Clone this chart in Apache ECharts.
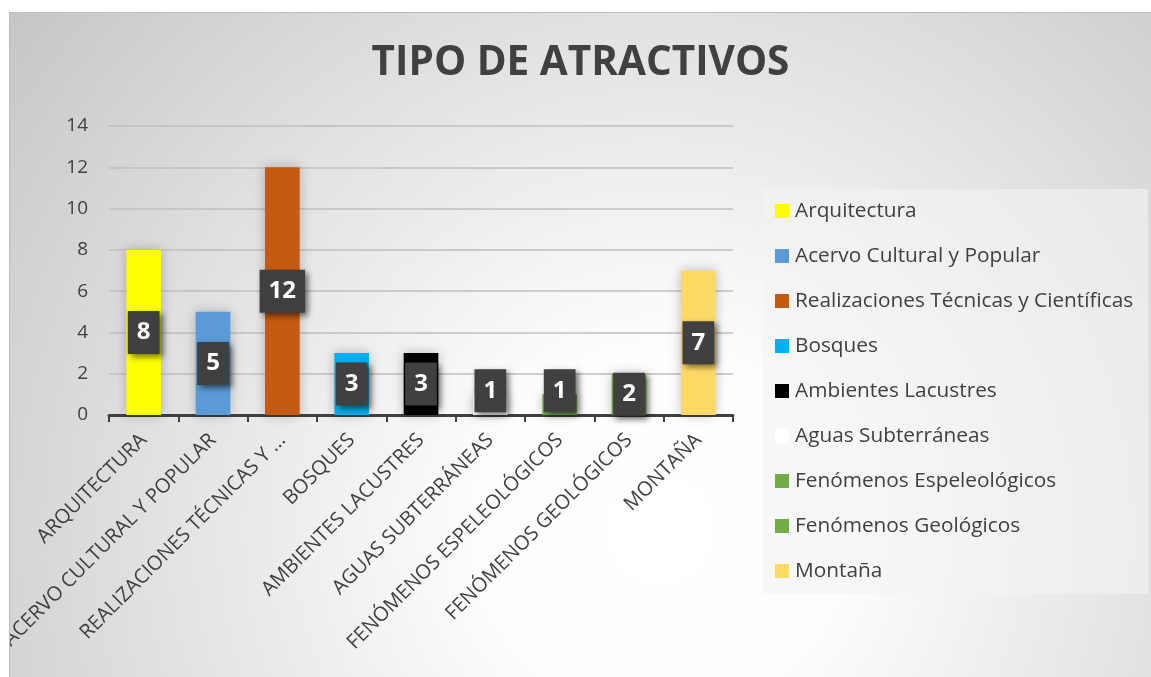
<!DOCTYPE html>
<html>
<head>
<meta charset="utf-8">
<script src="https://cdn.jsdelivr.net/npm/echarts@6/dist/echarts.min.js"></script>
<style>
  html, body { margin: 0; padding: 0; background: #fff; }
  #chart {
    position: absolute; left: 9px; top: 12px; width: 1142px; height: 665px;
    box-sizing: border-box; border-top: 1px solid #bdbdbd; border-left: 1px solid #bdbdbd;
    background: radial-gradient(circle at 57% 78%, #ffffff 0%, #fdfdfd 22%, #c6c6c6 100%);
  }
</style>
</head>
<body>
<div id="chart"></div>
<script>
const titleText = 'TIPO DE ATRACTIVOS';
const categories = [
  'Arquitectura', 'Acervo Cultural y Popular', 'Realizaciones Técnicas y Científicas',
  'Bosques', 'Ambientes Lacustres', 'Aguas Subterráneas',
  'Fenómenos Espeleológicos', 'Fenómenos Geológicos', 'Montaña'
];
const tickLabels = [
  'ARQUITECTURA', 'ACERVO CULTURAL Y POPULAR', 'REALIZACIONES TÉCNICAS Y ...',
  'BOSQUES', 'AMBIENTES LACUSTRES', 'AGUAS SUBTERRÁNEAS',
  'FENÓMENOS ESPELEOLÓGICOS', 'FENÓMENOS GEOLÓGICOS', 'MONTAÑA'
];
const values = [8, 5, 12, 3, 3, 1, 1, 2, 7];
const colors = ['#ffff00', '#5b9bd5', '#c55a11', '#00b0f0', '#000000', '#ffffff', '#70ad47', '#70ad47', '#ffd966'];
const yTicks = { min: 0, max: 14, interval: 2 };

const font = 'Open Sans';
const textColor = '#404040';

// one series per category, stacked so each bar sits centred in its own slot
const series = categories.map((name, i) => ({
  name,
  type: 'bar',
  stack: 'all',
  barWidth: '50%',
  data: values.map((v, j) => (j === i ? v : '-')),
  itemStyle: {
    color: colors[i],
    shadowColor: 'rgba(0,0,0,0.25)',
    shadowBlur: 12
  },
  label: {
    show: true,
    position: 'inside',
    offset: values[i] < 2 ? [0, -14] : [0, 0],
    fontFamily: font,
    fontSize: 24,
    fontWeight: 'bold',
    color: '#ffffff',
    backgroundColor: '#404040',
    padding: [10, 9, 9, 9],
    shadowColor: 'rgba(0,0,0,0.55)',
    shadowBlur: 6,
    shadowOffsetX: 3,
    shadowOffsetY: 3
  }
}));

const chart = echarts.init(document.getElementById('chart'));
chart.setOption({
  animation: false,
  textStyle: { fontFamily: font },
  title: {
    text: titleText,
    left: 'center',
    top: 30,
    padding: 0,
    textStyle: { fontFamily: font, fontSize: 40.5, fontWeight: 'bold', color: textColor }
  },
  graphic: [{
    type: 'rect',
    left: 753,
    top: 176,
    shape: { width: 385, height: 405 },
    style: { fill: 'rgba(244,244,244,0.6)' },
    z: -1
  }],
  legend: {
    orient: 'vertical',
    left: 765,
    top: 186,
    padding: 0,
    itemWidth: 14,
    itemHeight: 14,
    itemGap: 21,
    icon: 'rect',
    data: categories,
    textStyle: { fontFamily: font, fontSize: 20.8, color: textColor, lineHeight: 24, padding: [0, 0, 0, 1] }
  },
  grid: { left: 99, top: 113, right: 418, bottom: 262, outerBoundsMode: 'none', containLabel: false },
  xAxis: {
    type: 'category',
    data: categories,
    axisLine: { lineStyle: { color: textColor, width: 3 } },
    axisTick: { show: true, length: 7, lineStyle: { color: textColor, width: 2 } },
    axisLabel: {
      interval: 0,
      rotate: 45,
      margin: 22,
      fontFamily: font,
      fontSize: 20,
      color: textColor,
      formatter: (v, i) => tickLabels[i]
    }
  },
  yAxis: {
    type: 'value',
    min: yTicks.min,
    max: yTicks.max,
    interval: yTicks.interval,
    axisLine: { show: false },
    axisTick: { show: false },
    splitLine: { lineStyle: { color: '#bfbfbf', width: 1.5 } },
    axisLabel: { margin: 21, fontFamily: font, fontSize: 19, color: textColor }
  },
  series
});
</script>
</body>
</html>
